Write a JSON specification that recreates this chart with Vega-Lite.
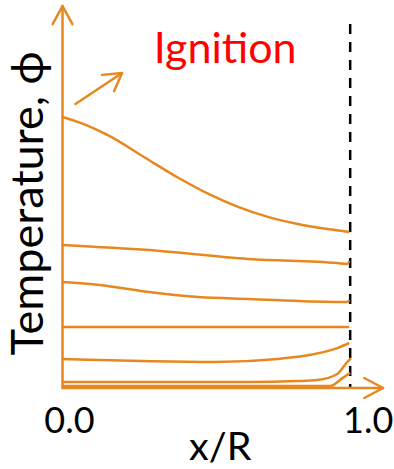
{
  "$schema": "https://vega.github.io/schema/vega-lite/v6.json",
  "width": 394,
  "height": 469,
  "padding": 0,
  "autosize": {"type": "fit", "contains": "padding"},
  "background": "white",
  "config": {"view": {"stroke": null}},
  "datasets": {
    "curves": [
      {"c": "1", "i": 0, "x": 0, "y": 1.0},
      {"c": "1", "i": 1, "x": 0.083, "y": 0.970},
      {"c": "1", "i": 2, "x": 0.163, "y": 0.930},
      {"c": "1", "i": 3, "x": 0.284, "y": 0.852},
      {"c": "1", "i": 4, "x": 0.405, "y": 0.774},
      {"c": "1", "i": 5, "x": 0.509, "y": 0.715},
      {"c": "1", "i": 6, "x": 0.612, "y": 0.667},
      {"c": "1", "i": 7, "x": 0.716, "y": 0.630},
      {"c": "1", "i": 8, "x": 0.820, "y": 0.604},
      {"c": "1", "i": 9, "x": 0.924, "y": 0.585},
      {"c": "1", "i": 10, "x": 1.0, "y": 0.574},
      {"c": "2", "i": 0, "x": 0, "y": 0.526},
      {"c": "2", "i": 1, "x": 0.301, "y": 0.507},
      {"c": "2", "i": 2, "x": 0.647, "y": 0.474},
      {"c": "2", "i": 3, "x": 0.958, "y": 0.459},
      {"c": "2", "i": 4, "x": 0.993, "y": 0.456},
      {"c": "2", "i": 5, "x": 1.0, "y": 0.467},
      {"c": "3", "i": 0, "x": 0, "y": 0.389},
      {"c": "3", "i": 1, "x": 0.128, "y": 0.378},
      {"c": "3", "i": 2, "x": 0.301, "y": 0.352},
      {"c": "3", "i": 3, "x": 0.474, "y": 0.333},
      {"c": "3", "i": 4, "x": 0.647, "y": 0.326},
      {"c": "3", "i": 5, "x": 0.958, "y": 0.315},
      {"c": "3", "i": 6, "x": 0.993, "y": 0.315},
      {"c": "3", "i": 7, "x": 1.0, "y": 0.322},
      {"c": "4", "i": 0, "x": 0, "y": 0.222},
      {"c": "4", "i": 1, "x": 1.0, "y": 0.222},
      {"c": "5", "i": 0, "x": 0, "y": 0.104},
      {"c": "5", "i": 1, "x": 0.533, "y": 0.093},
      {"c": "5", "i": 2, "x": 0.751, "y": 0.104},
      {"c": "5", "i": 3, "x": 0.879, "y": 0.122},
      {"c": "5", "i": 4, "x": 0.958, "y": 0.144},
      {"c": "5", "i": 5, "x": 1.0, "y": 0.163},
      {"c": "6", "i": 0, "x": 0, "y": 0.0185},
      {"c": "6", "i": 1, "x": 0.647, "y": 0.0185},
      {"c": "6", "i": 2, "x": 0.820, "y": 0.022},
      {"c": "6", "i": 3, "x": 0.889, "y": 0.026},
      {"c": "6", "i": 4, "x": 0.958, "y": 0.048},
      {"c": "6", "i": 5, "x": 0.990, "y": 0.089},
      {"c": "6", "i": 6, "x": 1.006, "y": 0.107},
      {"c": "7", "i": 0, "x": 0, "y": 0.004},
      {"c": "7", "i": 1, "x": 0.934, "y": 0.004},
      {"c": "7", "i": 2, "x": 0.976, "y": 0.033},
      {"c": "7", "i": 3, "x": 1.003, "y": 0.052}
    ],
    "arrows": [
      {"a": "yaxis", "i": 0, "x": 0, "y": -0.0037},
      {"a": "yaxis", "i": 1, "x": 0, "y": 1.411},
      {"a": "yhead", "i": 0, "x": -0.0346, "y": 1.344},
      {"a": "yhead", "i": 1, "x": 0, "y": 1.411},
      {"a": "yhead", "i": 2, "x": 0.0346, "y": 1.344},
      {"a": "xaxis", "i": 0, "x": 0, "y": -0.0037},
      {"a": "xaxis", "i": 1, "x": 1.1177, "y": -0.0037},
      {"a": "xhead", "i": 0, "x": 1.052, "y": 0.0333},
      {"a": "xhead", "i": 1, "x": 1.1177, "y": -0.0037},
      {"a": "xhead", "i": 2, "x": 1.052, "y": -0.0407},
      {"a": "diag", "i": 0, "x": 0.045, "y": 1.048},
      {"a": "diag", "i": 1, "x": 0.2076, "y": 1.163},
      {"a": "dhead", "i": 0, "x": 0.138, "y": 1.156},
      {"a": "dhead", "i": 1, "x": 0.2076, "y": 1.163},
      {"a": "dhead", "i": 2, "x": 0.180, "y": 1.096}
    ],
    "wall": [{"x": 1.003, "y": 1.344, "y2": -0.0037}],
    "labels": [
      {"t": "Ignition", "x": 0.567, "y": 1.2, "k": "title"},
      {"t": "x/R", "x": 0.55, "y": -0.27, "k": "xl"},
      {"t": "0.0", "x": 0.024, "y": -0.17, "k": "tick"},
      {"t": "1.0", "x": 1.066, "y": -0.17, "k": "tick"}
    ],
    "ylab": [{"t": "Temperature, ϕ", "x": -0.0692, "y": 0.68}]
  },
  "layer": [
    {
      "data": {"name": "wall"},
      "mark": {"type": "rule", "color": "black", "strokeWidth": 2.5, "strokeDash": [10, 8]},
      "encoding": {
        "x": {"field": "x", "type": "quantitative", "scale": {"domain": [-0.21799, 1.14533], "nice": false, "zero": false}, "axis": null},
        "y": {"field": "y", "type": "quantitative", "scale": {"domain": [-0.3037, 1.43333], "nice": false, "zero": false}, "axis": null},
        "y2": {"field": "y2"}
      }
    },
    {
      "data": {"name": "curves"},
      "mark": {"type": "line", "color": "#E8871E", "strokeWidth": 2.5, "interpolate": "monotone"},
      "encoding": {
        "x": {"field": "x", "type": "quantitative"},
        "y": {"field": "y", "type": "quantitative"},
        "detail": {"field": "c"},
        "order": {"field": "i"}
      }
    },
    {
      "data": {"name": "arrows"},
      "mark": {"type": "line", "color": "#E8871E", "strokeWidth": 2.5, "strokeCap": "round", "strokeJoin": "round"},
      "encoding": {
        "x": {"field": "x", "type": "quantitative"},
        "y": {"field": "y", "type": "quantitative"},
        "detail": {"field": "a"},
        "order": {"field": "i"}
      }
    },
    {
      "data": {"name": "labels"},
      "mark": {"type": "text", "font": "Lato", "baseline": "alphabetic", "align": "center"},
      "encoding": {
        "x": {"field": "x", "type": "quantitative"},
        "y": {"field": "y", "type": "quantitative"},
        "text": {"field": "t"},
        "color": {"field": "k", "type": "nominal", "scale": {"domain": ["title", "xl", "tick"], "range": ["#FF0000", "#000000", "#000000"]}, "legend": null},
        "size": {"field": "k", "type": "nominal", "scale": {"domain": ["title", "xl", "tick"], "range": [43, 36, 28]}, "legend": null}
      }
    },
    {
      "data": {"name": "ylab"},
      "mark": {"type": "text", "font": "Lato", "baseline": "alphabetic", "align": "center", "angle": 270, "fontSize": 45, "color": "black"},
      "encoding": {
        "x": {"field": "x", "type": "quantitative"},
        "y": {"field": "y", "type": "quantitative"},
        "text": {"field": "t"}
      }
    }
  ]
}
